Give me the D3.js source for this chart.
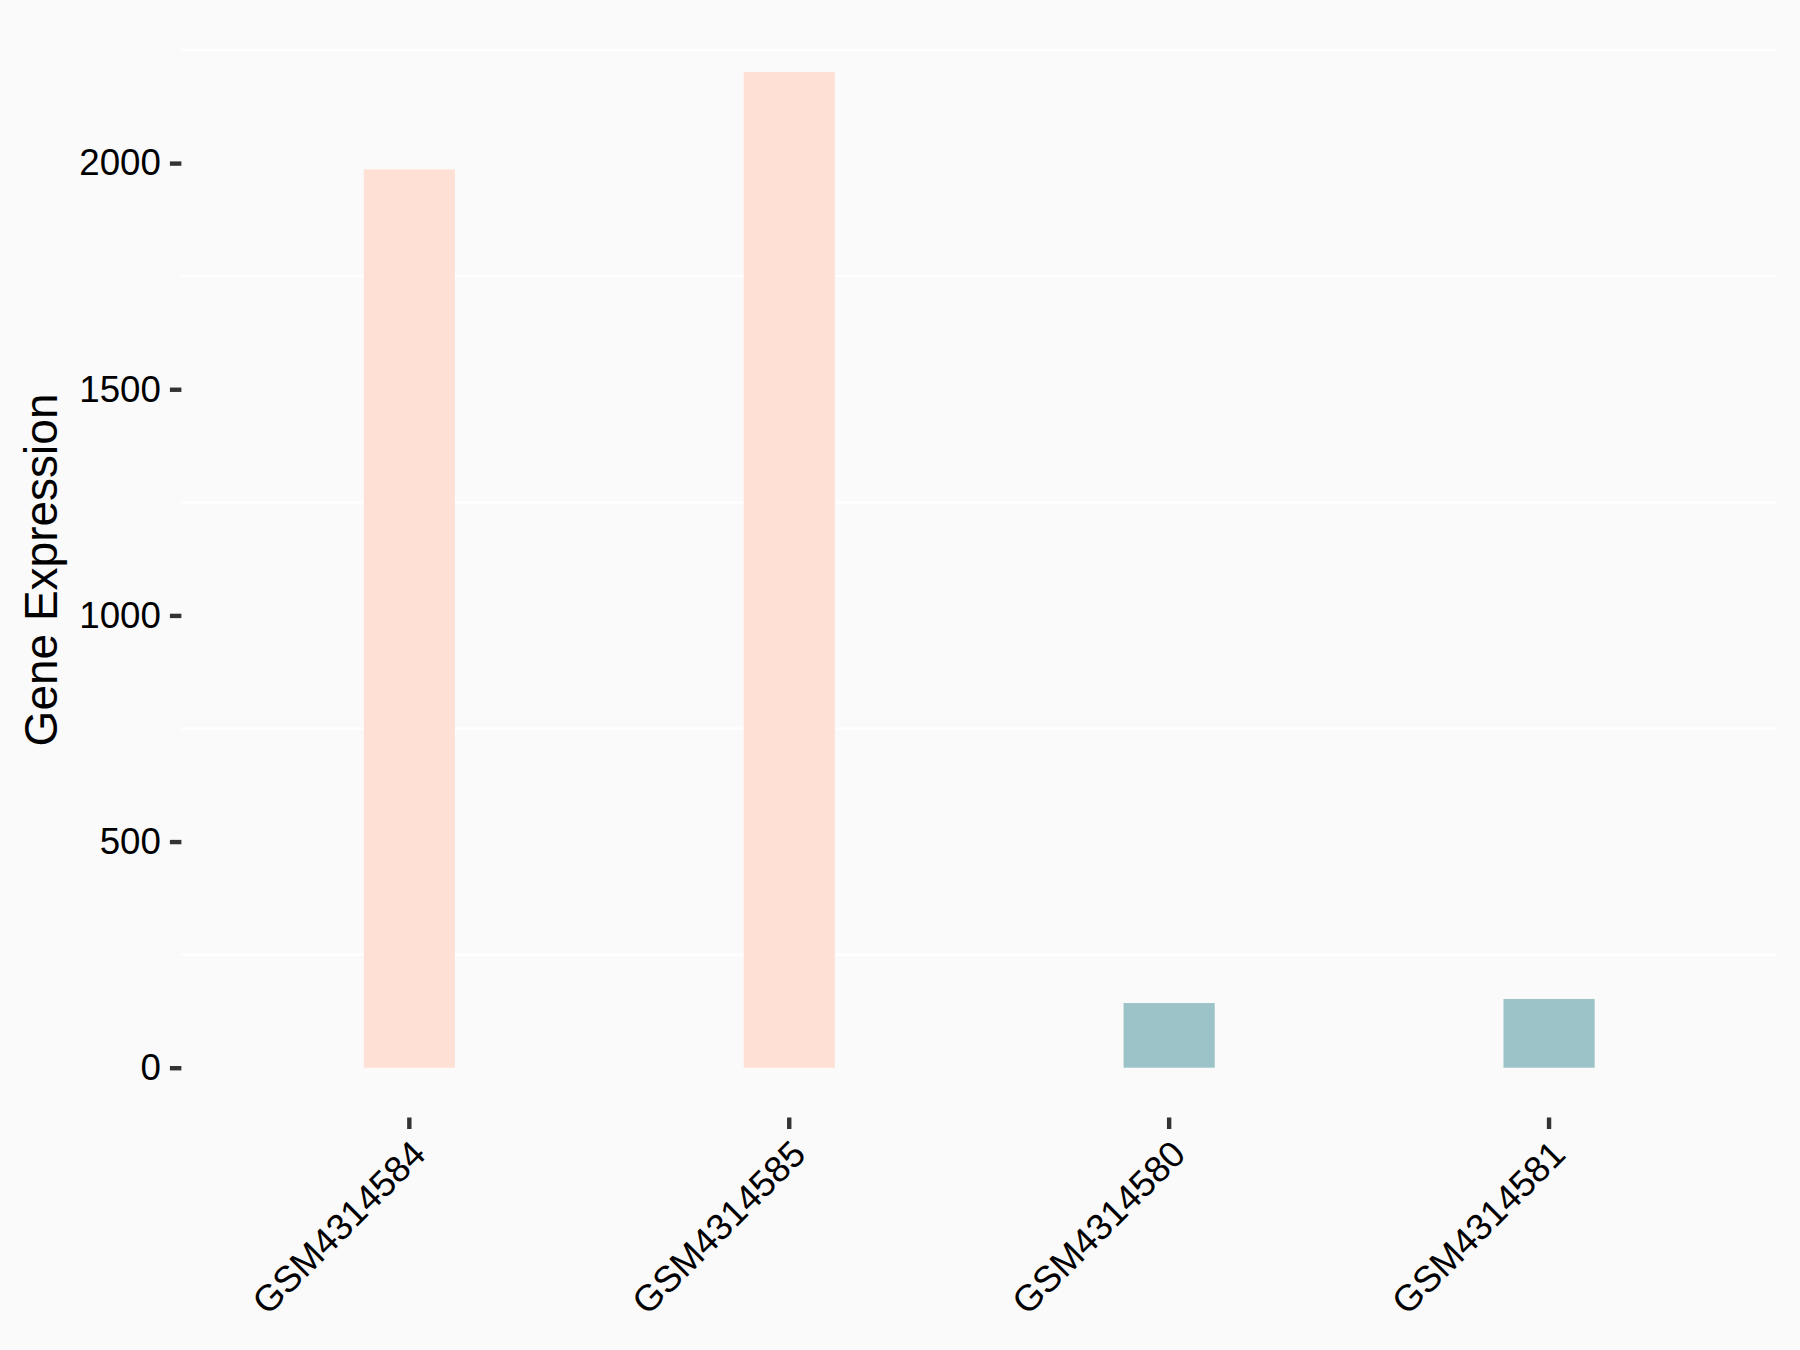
<!DOCTYPE html>
<html>
<head>
<meta charset="utf-8">
<script src="https://cdn.jsdelivr.net/npm/d3@7"></script>
<style>
  html, body { margin: 0; padding: 0; background: #FAFAFA; }
  svg { display: block; }
  text { font-family: "Liberation Sans", Arial, sans-serif; }
</style>
</head>
<body>
<svg id="chart" width="1800" height="1350"></svg>
<script>
// ---- data ----
const categories = ["GSM4314584", "GSM4314585", "GSM4314580", "GSM4314581"];
const values = [1986, 2201, 143, 152];
const groups = ["high", "high", "low", "low"];
const yTicks = [0, 500, 1000, 1500, 2000];
const yMinorGrid = [250, 750, 1250, 1750, 2250];
const yTitle = "Gene Expression";
const groupColors = { high: "#FEE0D5", low: "#9CC4C8" };

// ---- layout ----
const W = 1800, H = 1350;
const panel = { left: 181.4, right: 1777, top: 22.4, bottom: 1117.5 };

const svg = d3.select("#chart");
svg.append("rect").attr("width", W).attr("height", H).attr("fill", "#FAFAFA");

const x = d3.scaleBand()
  .domain(categories)
  .range([panel.left, panel.right])
  .paddingInner(0.76)
  .paddingOuter(0.48);

const yMax = d3.max(values);
const y = d3.scaleLinear()
  .domain([-0.05 * yMax, yMax * 1.05])
  .range([panel.bottom, panel.top]);

// minor grid lines (white)
svg.append("g").selectAll("line").data(yMinorGrid).join("line")
  .attr("x1", panel.left).attr("x2", panel.right)
  .attr("y1", d => y(d)).attr("y2", d => y(d))
  .attr("stroke", "#FFFFFF").attr("stroke-width", 2.2);

// bars
const data = categories.map((c, i) => ({ c, v: values[i], g: groups[i] }));
svg.append("g").selectAll("rect").data(data).join("rect")
  .attr("x", d => x(d.c))
  .attr("width", x.bandwidth())
  .attr("y", d => y(d.v))
  .attr("height", d => y(0) - y(d.v))
  .attr("fill", d => groupColors[d.g]);

// y axis
const yAxis = d3.axisLeft(y).tickValues(yTicks).tickSize(11.5).tickPadding(9).tickFormat(d3.format("d"));
const gy = svg.append("g").attr("transform", `translate(${panel.left},0)`).call(yAxis);
gy.select(".domain").remove();
gy.selectAll(".tick line").attr("stroke", "#333333").attr("stroke-width", 4.4);
gy.selectAll(".tick text")
  .attr("fill", "#000000")
  .style("font-size", "36.7px");

// x axis
const xAxis = d3.axisBottom(x).tickSize(11.5).tickPadding(9);
const gx = svg.append("g").attr("transform", `translate(0,${panel.bottom})`).call(xAxis);
gx.select(".domain").remove();
gx.selectAll(".tick line").attr("stroke", "#333333").attr("stroke-width", 4.4);
gx.selectAll(".tick text")
  .attr("fill", "#000000")
  .style("font-size", "36.7px")
  .attr("text-anchor", "end")
  .attr("y", 0).attr("dy", "0")
  .attr("transform", "translate(0,20.5) rotate(-45) translate(0,26)");

// y title
svg.append("text")
  .attr("transform", `translate(57,${(panel.top + panel.bottom) / 2}) rotate(-90)`)
  .attr("text-anchor", "middle")
  .style("font-size", "46px")
  .attr("fill", "#000000")
  .text(yTitle);
</script>
</body>
</html>
